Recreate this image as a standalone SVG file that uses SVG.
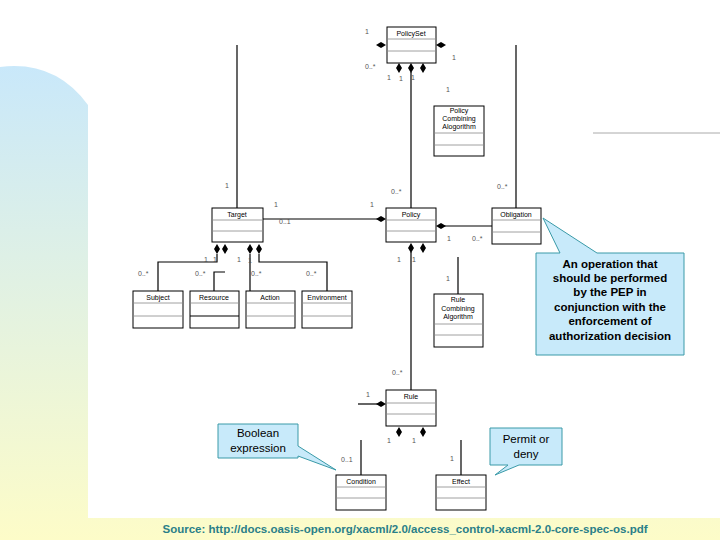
<svg xmlns="http://www.w3.org/2000/svg" width="720" height="540" viewBox="0 0 720 540">
<defs>
<linearGradient id="bg" x1="0" y1="0" x2="0" y2="1">
<stop offset="0" stop-color="#c9e8fa"/><stop offset="1" stop-color="#fdfcc8"/>
</linearGradient>
<style>
.b{fill:#fff;stroke:#000;stroke-width:1}
.s{stroke:#888;stroke-width:0.8;fill:none}
.l{stroke:#000;stroke-width:1.2;fill:none}
.t{font-family:"Liberation Sans",Arial,sans-serif;font-size:7px;fill:#000;text-anchor:middle}
.m{font-family:"Liberation Sans",Arial,sans-serif;font-size:7px;fill:#555}
.c{fill:#c8eafa;stroke:#3a9aa8;stroke-width:1}
.ct{font-family:"Liberation Sans",Arial,sans-serif;font-size:11.5px;font-weight:bold;fill:#000;text-anchor:middle}
.cr{font-family:"Liberation Sans",Arial,sans-serif;font-size:11.5px;fill:#000;text-anchor:middle}
</style>
<path id="d" d="M0,-5 L3,0 L0,5 L-3,0 Z" fill="#000"/>
<path id="dh" d="M-5,0 L0,-3 L5,0 L0,3 Z" fill="#000"/>
</defs>
<rect width="720" height="540" fill="#fff"/>
<path d="M0,67 Q55,60 88,105 L88,518 L720,518 L720,540 L0,540 Z" fill="url(#bg)"/>
<line x1="593" y1="133" x2="720" y2="133" stroke="#aaa" stroke-width="1"/>

<g id="connectors">
<line class="l" x1="237" y1="45" x2="237" y2="208"/>
<line class="l" x1="516" y1="45" x2="516" y2="208"/>
<line class="l" x1="411" y1="72" x2="411" y2="208"/>
<line class="l" x1="263" y1="219" x2="381" y2="219"/>
<line class="l" x1="441" y1="226" x2="492" y2="226"/>
<line class="l" x1="411" y1="252" x2="411" y2="390"/>
<line class="l" x1="458" y1="257" x2="458" y2="294"/>
<line class="l" x1="358" y1="404" x2="381" y2="404"/>
<line class="l" x1="361" y1="440" x2="361" y2="475"/>
<line class="l" x1="461" y1="440" x2="461" y2="475"/>
<polyline class="l" points="217,254 217,262 158,262 158,291"/>
<polyline class="l" points="225,272 214,272 214,291"/>
<line class="l" x1="250" y1="254" x2="250" y2="291"/>
<polyline class="l" points="259,254 259,262 327,262 327,291"/>
<use href="#dh" x="381" y="45"/><use href="#dh" x="441" y="45"/>
<use href="#d" x="399" y="68"/><use href="#d" x="411" y="68"/><use href="#d" x="423" y="68"/>
<use href="#dh" x="381" y="219"/><use href="#dh" x="441" y="226"/>
<use href="#d" x="411" y="248"/><use href="#d" x="423" y="248"/>
<use href="#d" x="217" y="249"/><use href="#d" x="225" y="249"/><use href="#d" x="250" y="249"/><use href="#d" x="259" y="249"/>
<use href="#dh" x="381" y="404"/>
<use href="#d" x="399" y="432"/><use href="#d" x="423" y="432"/>
</g>

<g id="labels">
<text class="m" x="365" y="34">1</text><text class="m" x="452" y="60">1</text>
<text class="m" x="365" y="69">0..*</text><text class="m" x="387" y="80">1</text><text class="m" x="399" y="81">1</text><text class="m" x="411" y="80">1</text>
<text class="m" x="446" y="92">1</text>
<text class="m" x="225" y="188">1</text><text class="m" x="274" y="207">1</text><text class="m" x="279" y="224">0..1</text>
<text class="m" x="391" y="194">0..*</text><text class="m" x="370" y="207">1</text>
<text class="m" x="497" y="189">0..*</text>
<text class="m" x="447" y="241">1</text><text class="m" x="472" y="241">0..*</text>
<text class="m" x="204" y="262">1</text><text class="m" x="213" y="262">1</text><text class="m" x="237" y="262">1</text><text class="m" x="248" y="263">1</text>
<text class="m" x="138" y="276">0..*</text><text class="m" x="195" y="276">0..*</text><text class="m" x="251" y="276">0..*</text><text class="m" x="306" y="276">0..*</text>
<text class="m" x="397" y="262">1</text><text class="m" x="412" y="262">1</text><text class="m" x="446" y="281">1</text>
<text class="m" x="392" y="375">0..*</text><text class="m" x="366" y="397">1</text>
<text class="m" x="387" y="443">1</text><text class="m" x="412" y="443">1</text>
<text class="m" x="341" y="462">0..1</text><text class="m" x="450" y="461">1</text>
</g>

<g id="PolicySet"><rect class="b" x="387" y="27" width="49" height="36"/><line class="s" x1="387" y1="39" x2="436" y2="39"/><line class="s" x1="387" y1="51" x2="436" y2="51"/><text class="t" x="411" y="36">PolicySet</text></g>
<g id="PolicyCombiningAlgorithm"><rect class="b" x="434" y="106" width="50" height="50"/><line class="s" x1="434" y1="133" x2="484" y2="133"/><line class="s" x1="434" y1="145" x2="484" y2="145"/><text class="t" x="459" y="113">Policy</text><text class="t" x="459" y="121">Combining</text><text class="t" x="459" y="129">Alogorithm</text></g>
<g id="Target"><rect class="b" x="212" y="208" width="51" height="34"/><line class="s" x1="212" y1="220" x2="263" y2="220"/><line class="s" x1="212" y1="231" x2="263" y2="231"/><text class="t" x="237" y="217">Target</text></g>
<g id="Policy"><rect class="b" x="386" y="208" width="50" height="34"/><line class="s" x1="386" y1="220" x2="436" y2="220"/><line class="s" x1="386" y1="231" x2="436" y2="231"/><text class="t" x="411" y="217">Policy</text></g>
<g id="Obligation"><rect class="b" x="492" y="208" width="49" height="36"/><line class="s" x1="492" y1="220" x2="541" y2="220"/><line class="s" x1="492" y1="232" x2="541" y2="232"/><text class="t" x="516" y="217">Obligation</text></g>
<g id="Subject"><rect class="b" x="133" y="291" width="50" height="37"/><line class="s" x1="133" y1="303" x2="183" y2="303"/><line class="s" x1="133" y1="316" x2="183" y2="316"/><text class="t" x="158" y="300">Subject</text></g>
<g id="Resource"><rect class="b" x="190" y="291" width="49" height="37"/><line class="s" x1="190" y1="303" x2="239" y2="303"/><line class="l" x1="190" y1="316" x2="239" y2="316"/><text class="t" x="214" y="300">Resource</text></g>
<g id="Action"><rect class="b" x="246" y="291" width="49" height="37"/><line class="s" x1="246" y1="303" x2="295" y2="303"/><line class="s" x1="246" y1="316" x2="295" y2="316"/><text class="t" x="270" y="300">Action</text></g>
<g id="Environment"><rect class="b" x="302" y="291" width="50" height="37"/><line class="s" x1="302" y1="303" x2="352" y2="303"/><line class="s" x1="302" y1="316" x2="352" y2="316"/><text class="t" x="327" y="300">Environment</text></g>
<g id="RuleCombiningAlgorithm"><rect class="b" x="434" y="294" width="49" height="53"/><line class="s" x1="434" y1="324" x2="483" y2="324"/><line class="s" x1="434" y1="335" x2="483" y2="335"/><text class="t" x="458" y="302">Rule</text><text class="t" x="458" y="311">Combining</text><text class="t" x="458" y="319">Algorithm</text></g>
<g id="Rule"><rect class="b" x="386" y="390" width="50" height="36"/><line class="s" x1="386" y1="403" x2="436" y2="403"/><line class="s" x1="386" y1="414" x2="436" y2="414"/><text class="t" x="411" y="399">Rule</text></g>
<g id="Condition"><rect class="b" x="336" y="475" width="50" height="35"/><line class="s" x1="336" y1="487" x2="386" y2="487"/><line class="s" x1="336" y1="498" x2="386" y2="498"/><text class="t" x="361" y="484">Condition</text></g>
<g id="Effect"><rect class="b" x="436" y="475" width="50" height="35"/><line class="s" x1="436" y1="487" x2="486" y2="487"/><line class="s" x1="436" y1="498" x2="486" y2="498"/><text class="t" x="461" y="484">Effect</text></g>

<g id="note-obligation"><path class="c" d="M536,253 L560,253 L543,218 L597,253 L684,253 L684,355 L536,355 Z"/>
<text class="ct" x="610" y="268">An operation that</text><text class="ct" x="610" y="282">should be performed</text><text class="ct" x="610" y="296">by the PEP in</text><text class="ct" x="610" y="311">conjunction with the</text><text class="ct" x="610" y="325">enforcement of</text><text class="ct" x="610" y="340">authorization decision</text></g>
<g id="note-boolean"><path class="c" d="M218,424 L298,424 L298,446 L336,470 L298,456 L298,458 L218,458 Z"/><text class="cr" x="258" y="437">Boolean</text><text class="cr" x="258" y="452">expression</text></g>
<g id="note-permit"><path class="c" d="M490,428 L562,428 L562,465 L519,465 L495,475 L508,465 L490,465 Z"/><text class="cr" x="526" y="443">Permit or</text><text class="cr" x="526" y="458">deny</text></g>

<text x="405" y="533" font-family="'Liberation Sans',Arial,sans-serif" font-size="11.5" font-weight="bold" fill="#2a7f88" text-anchor="middle">Source: http://docs.oasis-open.org/xacml/2.0/access_control-xacml-2.0-core-spec-os.pdf</text>
</svg>
